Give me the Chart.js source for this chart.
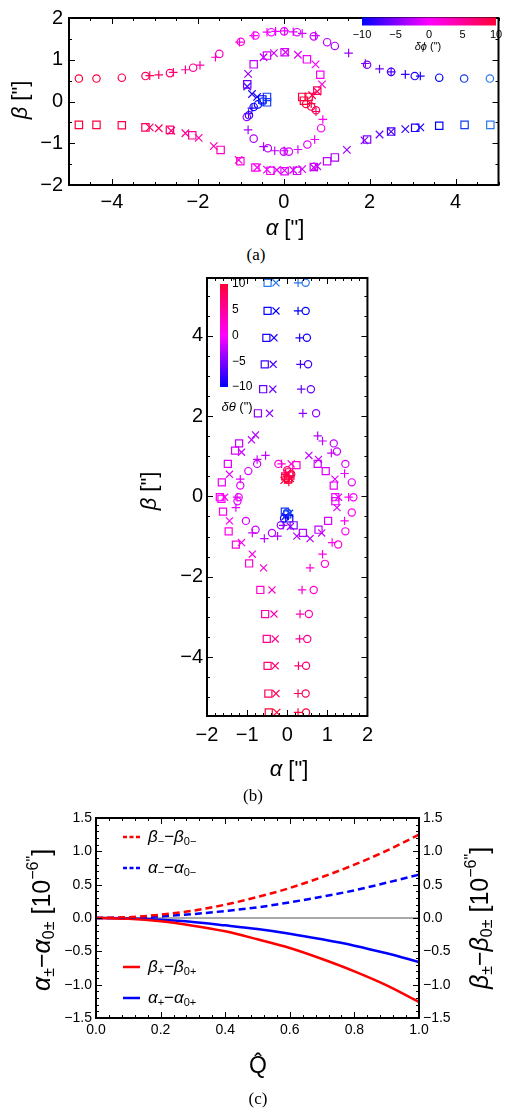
<!DOCTYPE html>
<html>
<head>
<meta charset="utf-8">
<script src="https://cdn.jsdelivr.net/npm/chart.js@4.4.1/dist/chart.umd.min.js"></script>
<style>
 body{margin:0;background:#fff}
 #page{position:relative;width:505px;height:1111px;overflow:hidden;background:#fff}
 canvas{position:absolute}
 .cap{position:absolute;width:60px;text-align:center;font:17px "Liberation Serif",serif;line-height:20px}
</style>
</head>
<body>
<div id="page">
 <canvas id="ca" width="505" height="245" style="left:0;top:0"></canvas>
 <div class="cap" style="left:226px;top:245px">(a)</div>
 <canvas id="cb" width="250" height="525" style="left:130px;top:262px"></canvas>
 <div class="cap" style="left:223px;top:786px">(b)</div>
 <canvas id="cc" width="505" height="300" style="left:0;top:805px"></canvas>
 <div class="cap" style="left:228px;top:1089px">(c)</div>
</div>
<script>
// ---------- (a) image positions, coloured by delta phi ----------
const aCircX=[-4.77,-4.36,-3.77,-3.22,-2.65,-2.11,-1.50,-1.00,-0.66,-0.29,0.01,0.31,0.70,1.01,1.19,1.94,2.50,3.05,3.62,4.20,4.80,
 -0.86,-0.70,-0.37,0.00,0.12,0.55,0.87, -0.70,-0.60,-0.49,-0.81,0.52,0.64,0.75];
const aCircY=[0.55,0.55,0.57,0.61,0.68,0.81,1.14,1.43,1.58,1.66,1.68,1.66,1.56,1.42,1.33,0.88,0.71,0.61,0.57,0.55,0.55,
 -0.37,-0.89,-1.12,-1.20,-1.20,-1.03,-0.64, -0.13,-0.07,0.00,-0.33,-0.06,-0.12,-0.21];
const aCircC=[10,9.5,9,8,7,5,3,1.5,0.5,-0.5,-1,-1.5,-2,-2.5,-3,-5,-7,-9,-10,-11,-12,
 -4,-3,-2.5,-2,-1.5,-1,0, -9,-10,-11,-8,10,9,8];

const aPlX=[-3.12,-2.91,-2.57,-2.29,-1.95,-1.59,-1.03,-0.70,-0.39,-0.19,0.02,0.22,0.43,0.74,1.51,1.90,2.23,2.50,2.83,3.18,
 -0.83,-0.47,-0.21,0.01,0.33,0.72,0.91, -0.74,-0.82,0.64,0.75];
const aPlY=[0.62,0.64,0.70,0.76,0.87,1.06,1.42,1.58,1.66,1.68,1.69,1.67,1.63,1.58,1.16,0.91,0.78,0.71,0.65,0.61,
 -0.68,-1.08,-1.18,-1.18,-1.15,-0.91,-0.43, -0.16,-0.29,-0.05,-0.24];
const aPlC=[8,7.5,6.5,5.5,4.5,3.5,1.5,0.5,-0.5,-0.8,-1,-1.3,-1.6,-2,-4,-5,-6,-7,-8,-9,
 -3.5,-3,-2.5,-2,-1.5,-0.5,1, -8.5,-7.5,9,8];

const aSqX=[-4.77,-4.36,-3.77,-3.22,-2.65,-2.13,-1.47,-1.01,-0.66,-0.31,0.02,0.31,0.70,1.01,1.19,1.94,2.50,3.06,3.62,4.21,4.81,
 -0.85,-0.70,-0.39,0.02,0.54,0.85, -0.39,-0.39,-0.50,0.43,0.47,0.58,0.78];
const aSqY=[-0.56,-0.56,-0.57,-0.62,-0.68,-0.81,-1.16,-1.43,-1.58,-1.66,-1.67,-1.66,-1.57,-1.43,-1.34,-0.91,-0.72,-0.63,-0.58,-0.56,-0.56,
 0.41,0.89,1.10,1.18,1.01,0.64, 0.11,-0.02,0.05,0.11,0.02,0.11,0.26];
const aSqC=[10,9.5,9,8,7,5,3,1.5,0.5,-0.5,-1,-1.5,-2,-2.5,-3,-5,-7,-9,-10,-11,-12,
 -6,-2.5,-2,-1.5,-0.5,0.5, -11,-11,-10,10,10,9.5,8];

const aXX=[-3.12,-2.91,-2.62,-2.29,-1.98,-1.63,-1.05,-0.62,-0.39,-0.16,0.02,0.22,0.43,0.70,0.78,1.47,1.88,2.23,2.50,2.83,3.18,
 -0.83,-0.47,-0.23,0.04,0.33,0.74,0.89, -0.85,-0.74,-0.62,0.66,0.78];
const aXY=[-0.62,-0.64,-0.70,-0.76,-0.87,-1.07,-1.40,-1.58,-1.63,-1.64,-1.65,-1.64,-1.62,-1.58,-1.55,-1.16,-0.93,-0.79,-0.72,-0.66,-0.62,
 0.66,1.06,1.16,1.18,1.12,0.89,0.41, 0.36,0.18,0.11,0.15,0.24];
const aXC=[8,7.5,6.5,5.5,4.5,3.5,1.5,0.5,-0.5,-0.8,-1,-1.3,-1.6,-2,-2.2,-4,-5,-6,-7,-8,-9,
 -4,-2.5,-2,-1.5,-1,0,2, -7,-8.5,-9.5,9,8];

const aTicksX=[-4,-2,0,2,4];
const aTicksY=[-2,-1,0,1,2];

// ---------- (b) image positions, coloured by delta theta ----------
const bSqX=[-0.49,-0.49,-0.52,-0.56,-0.60,-0.73, -1.20,-1.30,-1.48,-1.63,-1.68, 0.76,0.96,1.16,1.20,
 0.23,0.05,-0.05,0.02,0.08, 0.00,0.05,0.16,-0.06, -1.64,-1.60,-1.46,-1.28,-0.95, 0.39,0.78,1.02,1.20,
 -0.67,-0.55,-0.51,-0.49,-0.47,-0.46];
const bSqY=[5.32,4.62,3.95,3.29,2.67,2.07, 1.32,1.14,0.81,0.35,-0.02, 0.81,0.63,0.27,-0.02,
 0.78,0.60,0.50,0.42,0.52, -0.45,-0.55,-0.72,-0.38, -0.06,-0.38,-0.87,-1.20,-1.67, -0.91,-0.83,-0.61,-0.12,
 -2.33,-2.93,-3.55,-4.22,-4.91,-5.38];
const bSqC=[-12,-10,-9,-7.5,-6,-4.5, -2,-1.5,-1,-0.5,0, -2,-1.5,-1,-0.5,
 2,8,9,10,9, -11,-10,-5,-11, 0.5,0.5,1,1.5,2, -3,-2.5,-1.5,-1,
 2.5,4,5.5,7,8.5,10];

const bXX=[-0.28,-0.28,-0.33,-0.35,-0.36,-0.44, -0.79,-0.89,-1.14,-1.44,-1.56, 0.54,0.78,1.19,1.28,
 0.10,0.00,0.08,-0.08, 0.08,-0.05,0.06, -1.44,-1.14,-0.87,-0.59, 0.24,0.57,0.86,1.24,
 -0.38,-0.33,-0.30,-0.30,-0.28,-0.26];
const bXY=[5.32,4.62,3.95,3.29,2.67,2.07, 1.53,1.41,1.10,0.55,-0.02, 1.02,0.92,0.43,-0.02,
 0.81,0.58,0.45,0.40, -0.75,-0.50,-0.42, -0.61,-1.15,-1.44,-1.78, -0.99,-1.05,-0.91,-0.28,
 -2.33,-2.93,-3.55,-4.22,-4.91,-5.38];
const bXC=[-12,-10,-9,-7.5,-6,-4.5, -3,-2.5,-2,-1,0, -2.5,-2,-1,-0.5,
 2,8,9,10, -4,-9,-11, 0.5,1,1.5,2, -3,-2.5,-2,-1,
 2.5,4,5.5,7,8.5,10];

const bPlX=[0.27,0.27,0.31,0.33,0.35,0.39, -0.54,-0.75,-1.17,-1.25, 0.76,0.88,1.10,1.43,1.53,
 -0.14,-0.05,0.04, -0.10,0.03, -1.28,-0.87,-0.57,-0.24, 1.43,1.12,0.88,0.57,
 0.37,0.32,0.31,0.28,0.27,0.27];
const bPlY=[5.32,4.62,3.95,3.29,2.67,2.07, 1.02,0.92,0.43,-0.02, 1.51,1.38,1.08,0.57,-0.02,
 0.81,0.55,0.36, -0.72,-0.48, -0.28,-0.91,-1.05,-0.99, -0.61,-1.15,-1.44,-1.78,
 -2.33,-2.93,-3.55,-4.22,-4.91,-5.38];
const bPlC=[-12,-10,-9,-7.5,-6,-4.5, -2.5,-2,-1,-0.5, -3,-2.5,-2,-1,0,
 2,9,10, -4,-10, -1,-2,-2.5,-3, 0.5,1,1.5,2,
 2.5,4,5.5,7,8.5,10];

const bCiX=[0.46,0.46,0.49,0.52,0.59,0.72, -0.75,-0.97,-1.17,-1.21, 1.16,1.24,1.45,1.61,1.65,
 -0.22,0.00,-0.02,0.10, -0.16,0.00,-0.08, -1.24,-1.03,-0.79,-0.38, 1.61,1.45,1.27,0.94,
 0.66,0.54,0.50,0.47,0.46,0.47];
const bCiY=[5.32,4.62,3.95,3.29,2.67,2.07, 0.81,0.63,0.27,-0.02, 1.32,1.12,0.81,0.35,-0.02,
 0.81,0.65,0.45,0.55, -0.72,-0.40,-0.55, -0.12,-0.61,-0.83,-0.91, -0.40,-0.87,-1.20,-1.68,
 -2.33,-2.93,-3.55,-4.22,-4.91,-5.38];
const bCiC=[-12,-10,-9,-7.5,-6,-4.5, -2,-1.5,-1,-0.5, -2.5,-2,-1.5,-1,0,
 2,7,10,9, -4,-11,-9, -1,-1.5,-2,-3, 0.5,1,1.5,2,
 2.5,4,5.5,7,8.5,10];

const bTicksX=[-2,-1,0,1,2];
const bTicksY=[-4,-2,0,2,4];
const barTicks=[-10,-5,0,5,10];

// ---------- (c) shifts vs Q ----------
const cQ=[0,0.1,0.2,0.3,0.4,0.5,0.6,0.7,0.8,0.9,1.0];
const betaMinus=[0,0.012,0.05,0.11,0.2,0.315,0.45,0.615,0.80,1.01,1.25];
const alphaMinus=[0,0.006,0.026,0.058,0.105,0.16,0.235,0.32,0.415,0.53,0.65];
const betaPlus=[0,-0.013,-0.05,-0.115,-0.2,-0.32,-0.45,-0.615,-0.80,-1.01,-1.26];
const alphaPlus=[0,-0.007,-0.027,-0.06,-0.11,-0.165,-0.235,-0.32,-0.415,-0.53,-0.66];
const zeroQ=[0,1], zeroV=[0,0];
const cNames=['β_{−}−β_{0−}','α_{−}−α_{0−}','β_{+}−β_{0+}','α_{+}−α_{0+}'];
const cTicksX=[0,0.2,0.4,0.6,0.8,1.0];
const cTicksY=[-1.5,-1,-0.5,0,0.5,1,1.5];

const SANS='"Liberation Sans", Arial, sans-serif';
Chart.defaults.font.family=SANS;
Chart.defaults.color='#000';

function col(v){
 let r,g=0,b;
 if(v<-10){const t=Math.min(1,(-10-v)/2);r=Math.round(40*t);g=Math.round(120*t);b=255-Math.round(15*t);}
 else if(v<=0){r=Math.round(255*(v+10)/10);b=255;}
 else{r=255;b=Math.round(255-200*Math.min(v,10)/10);}
 return 'rgb('+r+','+g+','+b+')';
}
const fmt=(v,d)=>(v<0?'\u2212':'')+Math.abs(v).toFixed(d);

function seg(t,size,dy){
 return t.split(/([α-ωϕ])/).filter(Boolean).map(s=>[s,(/[α-ωϕ]/.test(s)?'italic ':'')+size+'px '+SANS,dy]);
}
function parse(str,size){
 const out=[],re=/([_^])\{([^}]*)\}|([^_^]+)/g;let m;
 while((m=re.exec(str))){
  if(m[1]) out.push(...seg(m[2],Math.round(size*0.64),m[1]==='_'?size*0.28:-size*0.38));
  else out.push(...seg(m[3],size,0));
 }
 return out;
}
function rich(ctx,parts,x,y,rot,align){
 ctx.save();ctx.translate(x,y);if(rot)ctx.rotate(rot);
 ctx.textBaseline='middle';ctx.fillStyle='#000';
 let w=0;parts.forEach(p=>{ctx.font=p[1];w+=ctx.measureText(p[0]).width;});
 let cx=align==='left'?0:-w/2;
 parts.forEach(p=>{ctx.font=p[1];ctx.fillText(p[0],cx,p[2]);cx+=ctx.measureText(p[0]).width;});
 ctx.restore();
}

// frame with inward ticks on all sides
function framePlugin(o){
 return {id:'frame',afterDatasetsDraw(ch){
  const ctx=ch.ctx,c=ch.chartArea,xs=ch.scales.x,ys=ch.scales.y;
  ctx.save();ctx.strokeStyle='#000';ctx.lineWidth=1;
  const tk=(sc,step,len,hor)=>{
   for(let i=Math.ceil(sc.min/step-1e-6);i<=Math.floor(sc.max/step+1e-6);i++){
    const p=Math.round(sc.getPixelForValue(i*step))+0.5;
    ctx.beginPath();
    if(hor){ctx.moveTo(p,c.bottom);ctx.lineTo(p,c.bottom-len);ctx.moveTo(p,c.top);ctx.lineTo(p,c.top+len);}
    else{ctx.moveTo(c.left,p);ctx.lineTo(c.left+len,p);ctx.moveTo(c.right,p);ctx.lineTo(c.right-len,p);}
    ctx.stroke();
   }
  };
  tk(xs,o.xMinor,3,true);tk(xs,o.xMajor,6,true);tk(ys,o.yMinor,3,false);tk(ys,o.yMajor,6,false);
  ctx.lineWidth=2;ctx.strokeRect(c.left,c.top,c.right-c.left,c.bottom-c.top);
  ctx.restore();
 }};
}
function textPlugin(items){
 return {id:'texts',afterDraw(ch){items.forEach(t=>rich(ch.ctx,parse(t.s,t.size),t.x,t.y,t.rot||0,t.align));}};
}
function barPlugin(o){
 return {id:'cbar',afterDraw(ch){
  const ctx=ch.ctx,b=o.box;ctx.save();
  const g=o.vertical?ctx.createLinearGradient(0,b.y+b.h,0,b.y):ctx.createLinearGradient(b.x,0,b.x+b.w,0);
  for(let i=0;i<=20;i++)g.addColorStop(i/20,col(-10+i));
  ctx.fillStyle=g;ctx.fillRect(b.x,b.y,b.w,b.h);
  ctx.fillStyle='#000';ctx.font=o.size+'px '+SANS;ctx.textBaseline='middle';
  barTicks.forEach(v=>{
   const f=(v+10)/20;
   if(o.vertical){ctx.textAlign='left';ctx.fillText(fmt(v,0),b.x+b.w+4,b.y+b.h-f*b.h);}
   else{ctx.textAlign='center';ctx.fillText(fmt(v,0),b.x+f*b.w,b.y+b.h+9);}
  });
  ctx.restore();
 }};
}

function pts(xs,ys,cs,style,r){
 return {data:xs.map((x,i)=>({x:x,y:ys[i]})),pointStyle:style,pointRadius:r,pointHoverRadius:r,
  pointBorderColor:cs.map(col),pointBackgroundColor:'rgba(0,0,0,0)',pointBorderWidth:1.2,showLine:false};
}
function axis(pos,min,max,ticks,dec,size,pad,fit){
 return {type:'linear',position:pos,min:min,max:max,
  grid:{display:false,drawTicks:false},border:{display:false},
  afterBuildTicks:s=>{s.ticks=ticks.map(v=>({value:v}));},
  afterFit:fit,
  ticks:{autoSkip:false,maxRotation:0,padding:pad,font:{size:size},color:'#000',callback:v=>fmt(v,dec)}};
}
const base=p=>({responsive:false,animation:false,events:[],layout:{padding:p},
 plugins:{legend:{display:false},tooltip:{enabled:false}}});

// (a)
const optA=base({left:0,right:4,top:11,bottom:0});
optA.scales={x:axis('bottom',-5,5,aTicksX,0,20,5,s=>{s.height=60;}),
             y:axis('left',-2,2,aTicksY,0,20,6,s=>{s.width=69;})};
new Chart(document.getElementById('ca'),{type:'scatter',
 data:{datasets:[pts(aCircX,aCircY,aCircC,'circle',3.7),pts(aSqX,aSqY,aSqC,'rect',5.2),
  pts(aXX,aXY,aXC,'crossRot',5.3),pts(aPlX,aPlY,aPlC,'cross',4.3)]},
 options:optA,
 plugins:[framePlugin({xMajor:2,xMinor:0.5,yMajor:1,yMinor:0.5}),
  barPlugin({box:{x:362,y:17.5,w:134,h:8},vertical:false,size:11}),
  textPlugin([{s:'α ["]',size:22,x:285,y:229},{s:'β ["]',size:22,x:21,y:100,rot:-Math.PI/2},
   {s:'δϕ (")',size:11,x:428,y:47}])]});

// (b)
const optB=base({left:0,right:9,top:6,bottom:0});
optB.scales={x:axis('bottom',-2,2,bTicksX,0,20,7,s=>{s.height=71;}),
             y:axis('left',-5.47,5.44,bTicksY,0,20,4,s=>{s.width=77;})};
new Chart(document.getElementById('cb'),{type:'scatter',
 data:{datasets:[pts(bCiX,bCiY,bCiC,'circle',3.6),pts(bSqX,bSqY,bSqC,'rect',5),
  pts(bXX,bXY,bXC,'crossRot',5),pts(bPlX,bPlY,bPlC,'cross',4.2)]},
 options:optB,
 plugins:[framePlugin({xMajor:1,xMinor:0.2,yMajor:2,yMinor:0.5}),
  barPlugin({box:{x:90,y:22,w:8,h:103},vertical:true,size:12}),
  textPlugin([{s:'α ["]',size:22,x:159,y:508},{s:'β ["]',size:22,x:20,y:229,rot:-Math.PI/2},
   {s:'δθ (")',size:13,x:107,y:145}])]});

// (c)
const line=(ys,color,dash,name)=>({data:cQ.map((q,i)=>({x:q,y:ys[i]})),borderColor:color,borderDash:dash,
 borderWidth:2.5,pointRadius:0,cubicInterpolationMode:'monotone',fill:false,name:name});
const keyRows=[{ds:0,y:32},{ds:1,y:63},{ds:2,y:162},{ds:3,y:193}];
const keyPlugin={id:'keys',afterDraw(ch){
 const ctx=ch.ctx;
 keyRows.forEach(r=>{
  const ds=ch.data.datasets[r.ds];
  ctx.save();ctx.strokeStyle=ds.borderColor;ctx.lineWidth=2.5;ctx.setLineDash(ds.borderDash.length?[4,2.5]:[]);
  ctx.beginPath();ctx.moveTo(123,r.y);ctx.lineTo(140,r.y);ctx.stroke();ctx.restore();
  rich(ctx,parse(ds.name,17),148,r.y,0,'left');
 });
}};
const optC=base({left:0,right:0,top:13,bottom:0});
optC.scales={x:axis('bottom',0,1,cTicksX,1,14,4,s=>{s.height=87;}),
             y:axis('left',-1.5,1.5,cTicksY,1,14,4,s=>{s.width=96;}),
             y2:axis('right',-1.5,1.5,cTicksY,1,14,4,s=>{s.width=86;})};
new Chart(document.getElementById('cc'),{type:'line',
 data:{datasets:[line(betaMinus,'#ff0000',[7,4],cNames[0]),line(alphaMinus,'#0000ff',[7,4],cNames[1]),
  line(betaPlus,'#ff0000',[],cNames[2]),line(alphaPlus,'#0000ff',[],cNames[3]),
  {data:zeroQ.map((q,i)=>({x:q,y:zeroV[i]})),borderColor:'#8c8c8c',borderWidth:1.4,pointRadius:0}]},
 options:optC,
 plugins:[framePlugin({xMajor:0.2,xMinor:0.04,yMajor:0.5,yMinor:0.1}),keyPlugin,
  textPlugin([{s:'α_{±}−α_{0±} [10^{−6"}]',size:25,x:43,y:115,rot:-Math.PI/2},
   {s:'β_{±}−β_{0±} [10^{−6"}]',size:25,x:481,y:113,rot:-Math.PI/2},
   {s:'Q\u0302',size:23,x:258,y:262}])]});
</script>
</body>
</html>
